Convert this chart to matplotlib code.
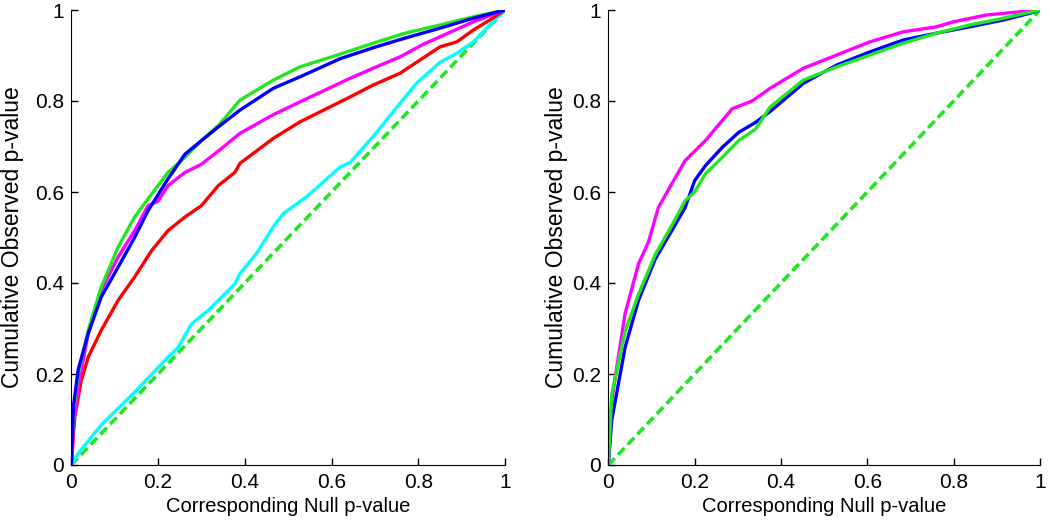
import matplotlib.pyplot as plt

plt.rcParams['font.family'] = ['Liberation Sans', 'DejaVu Sans']

# left panel curves (null p-value vs cumulative observed p-value)
left_green_x = [0, 0.005, 0.016, 0.039, 0.069, 0.108, 0.146, 0.177, 0.223, 0.262, 0.3, 0.339,
                0.389, 0.466, 0.527, 0.62, 0.696, 0.773, 0.85, 0.927, 1]
left_green_y = [0, 0.12, 0.20, 0.296, 0.391, 0.479, 0.545, 0.585, 0.643, 0.676, 0.713, 0.746,
                0.802, 0.846, 0.875, 0.903, 0.927, 0.950, 0.967, 0.985, 1]
left_blue_x = [0, 0.005, 0.016, 0.039, 0.069, 0.108, 0.146, 0.177, 0.223, 0.262, 0.3, 0.339,
               0.389, 0.466, 0.527, 0.62, 0.696, 0.758, 0.85, 0.927, 1]
left_blue_y = [0, 0.13, 0.21, 0.289, 0.369, 0.435, 0.50, 0.559, 0.629, 0.683, 0.713, 0.743,
               0.78, 0.828, 0.853, 0.893, 0.917, 0.935, 0.96, 0.982, 1]
left_magenta_x = [0, 0.005, 0.016, 0.039, 0.069, 0.108, 0.146, 0.177, 0.2, 0.223, 0.262, 0.3, 0.339,
                  0.389, 0.466, 0.527, 0.643, 0.696, 0.758, 0.812, 0.85, 0.927, 1]
left_magenta_y = [0, 0.09, 0.172, 0.289, 0.384, 0.457, 0.515, 0.57, 0.58, 0.614, 0.643, 0.661, 0.69,
                  0.729, 0.77, 0.798, 0.85, 0.872, 0.897, 0.925, 0.941, 0.974, 1]
left_red_x = [0, 0.008, 0.023, 0.039, 0.069, 0.108, 0.146, 0.185, 0.223, 0.262, 0.3, 0.339, 0.377,
              0.389, 0.466, 0.527, 0.643, 0.696, 0.758, 0.85, 0.889, 0.927, 0.965, 1]
left_red_y = [0, 0.106, 0.186, 0.237, 0.296, 0.362, 0.413, 0.471, 0.515, 0.545, 0.57, 0.614, 0.643,
              0.663, 0.718, 0.754, 0.809, 0.835, 0.861, 0.919, 0.93, 0.956, 0.978, 1]
left_cyan_x = [0, 0.016, 0.069, 0.146, 0.223, 0.246, 0.277, 0.316, 0.377, 0.389, 0.427, 0.466,
               0.489, 0.543, 0.62, 0.643, 0.696, 0.758, 0.796, 0.85, 0.889, 0.927, 0.965, 1]
left_cyan_y = [0, 0.026, 0.088, 0.16, 0.237, 0.258, 0.31, 0.34, 0.398, 0.421, 0.465, 0.524,
               0.553, 0.59, 0.655, 0.665, 0.722, 0.795, 0.839, 0.885, 0.905, 0.93, 0.967, 1]

# right panel curves
right_magenta_x = [0, 0.008, 0.039, 0.07, 0.093, 0.116, 0.147, 0.178, 0.225, 0.264, 0.287, 0.333,
                   0.375, 0.452, 0.529, 0.606, 0.683, 0.76, 0.799, 0.876, 0.953, 1]
right_magenta_y = [0, 0.143, 0.333, 0.442, 0.49, 0.566, 0.618, 0.669, 0.713, 0.757, 0.783, 0.80,
                   0.828, 0.872, 0.901, 0.93, 0.952, 0.963, 0.974, 0.989, 0.996, 1]
right_blue_x = [0, 0.008, 0.039, 0.07, 0.109, 0.147, 0.178, 0.2, 0.225, 0.264, 0.302, 0.341, 0.375,
                0.452, 0.529, 0.606, 0.683, 0.76, 0.837, 0.915, 0.977, 1]
right_blue_y = [0, 0.099, 0.259, 0.362, 0.453, 0.515, 0.566, 0.625, 0.658, 0.698, 0.731, 0.753, 0.777,
                0.839, 0.879, 0.908, 0.934, 0.949, 0.963, 0.978, 0.993, 1]
right_green_x = [0, 0.008, 0.039, 0.07, 0.109, 0.147, 0.178, 0.2, 0.225, 0.264, 0.302, 0.341, 0.375,
                 0.452, 0.529, 0.606, 0.683, 0.76, 0.837, 0.915, 1]
right_green_y = [0, 0.155, 0.294, 0.375, 0.463, 0.526, 0.581, 0.60, 0.64, 0.676, 0.713, 0.738, 0.787,
                 0.846, 0.875, 0.901, 0.927, 0.949, 0.967, 0.982, 1]

null_line = [0, 1]
ticks = [0, 0.2, 0.4, 0.6, 0.8, 1]
tick_labels = ['0', '0.2', '0.4', '0.6', '0.8', '1']

GREEN = '#22e622'
BLUE = '#0000ff'
MAGENTA = '#ff00ff'
RED = '#ff0000'
CYAN = '#00ffff'
lw = 2.4

fig = plt.figure(figsize=(10.5, 5.25), dpi=100)
ax1 = fig.add_axes([71.3 / 1050, 60 / 525, 433.7 / 1050, 455 / 525])
ax2 = fig.add_axes([608.3 / 1050, 60 / 525, 431.7 / 1050, 455 / 525])

# diagonal reference line and observed curves
ax1.plot(null_line, null_line, color=GREEN, lw=2.6, linestyle=(0, (2.6, 1.3)))
ax1.plot(left_cyan_x, left_cyan_y, color=CYAN, lw=lw)
ax1.plot(left_red_x, left_red_y, color=RED, lw=lw)
ax1.plot(left_magenta_x, left_magenta_y, color=MAGENTA, lw=lw)
ax1.plot(left_green_x, left_green_y, color=GREEN, lw=lw)
ax1.plot(left_blue_x, left_blue_y, color=BLUE, lw=lw)

ax2.plot(null_line, null_line, color=GREEN, lw=2.6, linestyle=(0, (2.6, 1.3)))
ax2.plot(right_magenta_x, right_magenta_y, color=MAGENTA, lw=lw)
ax2.plot(right_blue_x, right_blue_y, color=BLUE, lw=lw)
ax2.plot(right_green_x, right_green_y, color=GREEN, lw=lw)

for ax in (ax1, ax2):
    ax.set_xlim(0, 1)
    ax.set_ylim(0, 1)
    ax.set_xticks(ticks)
    ax.set_xticklabels(tick_labels)
    ax.set_yticks(ticks)
    ax.set_yticklabels(tick_labels)
    ax.spines['top'].set_visible(False)
    ax.spines['right'].set_visible(False)
    ax.tick_params(direction='in', length=5, labelsize=15, width=1)
    ax.tick_params(axis='x', pad=6)
    ax.tick_params(axis='y', pad=5)
    ax.set_xlabel('Corresponding Null p-value', fontsize=14.5)
    ax.set_ylabel('Cumulative Observed p-value', fontsize=16.5)
    ax.xaxis.set_label_coords(0.5, -0.071)

ax1.yaxis.set_label_coords(-0.109, 0.5)
ax2.yaxis.set_label_coords(-0.093, 0.5)

fig.savefig('out.png', dpi=100)
